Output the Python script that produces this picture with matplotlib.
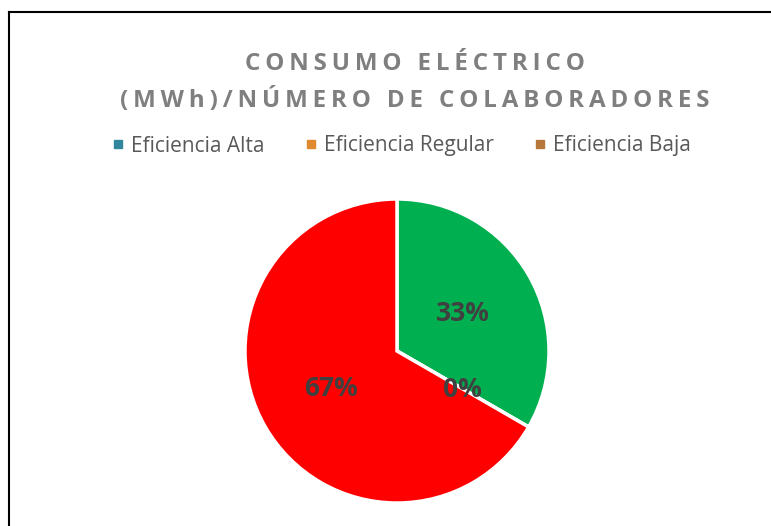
import matplotlib
matplotlib.use('Agg')
import matplotlib.pyplot as plt
from matplotlib.lines import Line2D

# Data
categories = ['Eficiencia Alta', 'Eficiencia Regular', 'Eficiencia Baja']
values = [1, 0, 2]
slice_colors = ['#00B050', '#FFC000', '#FF0000']
legend_colors = ['#31859C', '#E0892E', '#B8773A']
title_lines = ['CONSUMO ELÉCTRICO', '(MWh)/NÚMERO DE COLABORADORES']

W, H = 771, 526
fig = plt.figure(figsize=(W / 100, H / 100), dpi=100)
fonts = ['Open Sans', 'DejaVu Sans']


def spaced(s):
    # imitate the letter spacing of the title
    return '\u2009'.join(s)


# Title, two lines
for i, line in enumerate(title_lines):
    fig.text(415 / W, 1 - (64 + 36 * i) / H, spaced(line), ha='center',
             va='center', fontsize=17.4, fontweight='bold', color='#7F7F7F',
             family=fonts)

# Pie
cx, cy, r = 397, 351, 152
ax = fig.add_axes([(cx - r) / W, 1 - (cy + r) / H, 2 * r / W, 2 * r / H])
wedges, texts, autotexts = ax.pie(
    values, colors=slice_colors, startangle=90, counterclock=False,
    autopct=lambda p: '{0:.0f}%'.format(p), pctdistance=0.5,
    wedgeprops=dict(edgecolor='white', linewidth=2.5),
    textprops=dict(fontsize=19, fontweight='bold', color='#404040',
                   family=fonts))
ax.set_xlim(-1.0, 1.0)
ax.set_ylim(-1.0, 1.0)
ax.set_aspect('equal')
ax.axis('off')

# Legend
handles = [Line2D([0], [0], marker='s', linestyle='none', markersize=5.8,
                  markerfacecolor=c, markeredgecolor=c) for c in legend_colors]
fig.legend(handles, categories, loc='center', ncol=3,
           bbox_to_anchor=(402 / W, 1 - 146 / H), frameon=False,
           handlelength=0.5, handletextpad=0.35, columnspacing=2.0,
           prop=dict(family=fonts, size=15), labelcolor='#595959')

# Partial frame (left and top edges visible in the reference)
fig.add_artist(Line2D([8.5 / W, 8.5 / W], [0, 1 - 11.5 / H], color='black',
                      linewidth=1.5))
fig.add_artist(Line2D([8.5 / W, 1], [1 - 11.5 / H, 1 - 11.5 / H],
                      color='black', linewidth=1.5))

fig.savefig('out.png', dpi=100)
